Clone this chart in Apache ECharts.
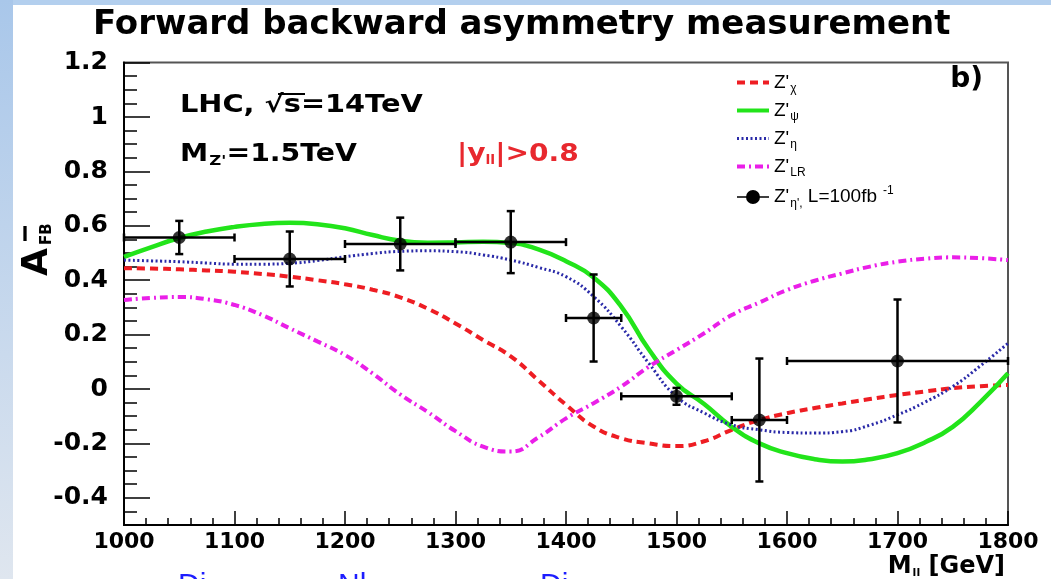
<!DOCTYPE html>
<html><head><meta charset="utf-8">
<script src="https://cdn.jsdelivr.net/npm/echarts@6/dist/echarts.min.js"></script>
<style>html,body{margin:0;padding:0;background:#fff}#c{width:1051px;height:579px}</style>
</head><body><div id="c"></div>
<script>
// ---- data ----
const massGrid = [1000,1025,1050,1075,1100,1125,1150,1175,1200,1225,1250,1275,1300,1325,1350,1375,1400,1425,1450,1475,1500,1525,1550,1575,1600,1625,1650,1675,1700,1725,1750,1775,1800];
const afbChi = [0.444,0.443,0.440,0.436,0.431,0.423,0.413,0.400,0.385,0.365,0.337,0.295,0.241,0.180,0.120,0.032,-0.058,-0.138,-0.181,-0.200,-0.210,-0.192,-0.150,-0.114,-0.089,-0.070,-0.053,-0.037,-0.022,-0.009,0.003,0.010,0.015];
const afbPsi = [0.486,0.522,0.555,0.579,0.596,0.607,0.611,0.606,0.591,0.566,0.545,0.538,0.539,0.541,0.537,0.513,0.470,0.410,0.303,0.145,0.020,-0.055,-0.139,-0.200,-0.236,-0.258,-0.267,-0.258,-0.236,-0.196,-0.139,-0.048,0.058];
const afbEta = [0.474,0.471,0.468,0.463,0.459,0.459,0.462,0.472,0.486,0.498,0.506,0.508,0.505,0.493,0.474,0.447,0.413,0.340,0.229,0.094,-0.028,-0.088,-0.132,-0.150,-0.160,-0.162,-0.157,-0.133,-0.095,-0.048,0.009,0.085,0.168];
const afbLR = [0.327,0.335,0.338,0.330,0.309,0.272,0.223,0.175,0.125,0.057,-0.020,-0.085,-0.155,-0.212,-0.230,-0.178,-0.108,-0.052,0.009,0.082,0.143,0.205,0.272,0.318,0.364,0.398,0.425,0.450,0.468,0.479,0.484,0.481,0.474];
const pointMass = [1050,1150,1250,1350,1425,1500,1575,1700];
const pointAfb = [0.557,0.478,0.533,0.540,0.261,-0.027,-0.114,0.103];
const pointMassErr = [50,50,50,50,25,50,25,100];
const pointAfbErr = [0.061,0.101,0.097,0.114,0.160,0.031,0.226,0.226];
const xTickLabels = [1000,1100,1200,1300,1400,1500,1600,1700,1800];
const yTickLabels = [-0.4,-0.2,0,0.2,0.4,0.6,0.8,1,1.2];

const seriesNames = ["Z'χ", "Z'ψ", "Z'η", "Z'LR", "Z'η', L=100fb-1"];
const legendRich = {
  "Z'χ": "{z|Z'}{s|χ}",
  "Z'ψ": "{z|Z'}{s|ψ}",
  "Z'η": "{z|Z'}{s|η}",
  "Z'LR": "{z|Z'}{s|LR}",
  "Z'η', L=100fb-1": "{z|Z'}{s|η',}{z| L=100fb}{p|-1}"
};
const pair = (ys) => massGrid.map((m, i) => [m, ys[i]]);
const BOLD = 'DejaVu Sans';

const chart = echarts.init(document.getElementById('c'), null, {renderer: 'canvas'});
chart.setOption({
  backgroundColor: '#fff',
  animation: false,
  title: {
    text: 'Forward backward asymmetry measurement',
    left: 88, top: 3,
    textStyle: {fontFamily: BOLD, fontWeight: 'bold', fontSize: 34, color: '#000'}
  },
  grid: {left: 124, top: 62.6, width: 884, height: 462.4, show: true, borderColor: '#555', borderWidth: 2, backgroundColor: 'transparent'},
  legend: {
    orient: 'vertical', left: 735, top: 73, padding: 0, itemWidth: 32, itemHeight: 14, itemGap: 6,
    itemStyle: {opacity: 0},
    data: [
      {name: seriesNames[0], lineStyle: {width: 4}},
      {name: seriesNames[1], lineStyle: {width: 4}},
      {name: seriesNames[2], lineStyle: {width: 3}},
      {name: seriesNames[3], lineStyle: {width: 4}},
      {name: seriesNames[4], icon: 'path://M0,6.2 H32 V7.8 H0 Z M9,7 A7,7 0 1 1 23,7 A7,7 0 1 1 9,7 Z', itemStyle: {color: '#000', opacity: 1}}
    ],
    formatter: (n) => legendRich[n] || n,
    textStyle: {
      fontFamily: 'Liberation Sans', fontSize: 19, color: '#000',
      rich: {
        z: {fontFamily: 'Liberation Sans', fontSize: 19, color: '#000'},
        s: {fontFamily: 'Liberation Sans', fontSize: 12, color: '#000', padding: [13, 0, 0, 1]},
        p: {fontFamily: 'Liberation Sans', fontSize: 12, color: '#000', padding: [0, 0, 12, 6]}
      }
    }
  },
  xAxis: {
    type: 'value', min: 1000, max: 1800, interval: 100,
    axisLine: {onZero: false, lineStyle: {color: '#000', width: 2}},
    axisTick: {inside: true, length: 14, lineStyle: {color: '#000', width: 1.5}},
    minorTick: {show: true, splitNumber: 5, length: 7, lineStyle: {color: '#000', width: 1.5}},
    splitLine: {show: false},
    axisLabel: {customValues: xTickLabels, formatter: (v) => String(v),
      fontFamily: BOLD, fontWeight: 'bold', fontSize: 22, color: '#000', margin: 6},
    name: '{m|M}{s|ll}{g| [GeV]}', nameLocation: 'end', nameGap: -3,
    nameTextStyle: {
      align: 'right', verticalAlign: 'top', padding: [30, 0, 0, 0],
      rich: {
        m: {fontFamily: BOLD, fontWeight: 'bold', fontSize: 24, color: '#000'},
        s: {fontFamily: BOLD, fontWeight: 'bold', fontSize: 11, color: '#000', padding: [12, 0, 0, 1]},
        g: {fontFamily: BOLD, fontWeight: 'bold', fontSize: 24, color: '#000'}
      }
    }
  },
  yAxis: [{
    type: 'value', min: -0.5, max: 1.2, interval: 0.05,
    axisLine: {onZero: false, lineStyle: {color: '#000', width: 2}},
    axisTick: {inside: true, length: 13, lineStyle: {color: '#000', width: 1.5}},
    splitLine: {show: false},
    axisLabel: {customValues: yTickLabels, formatter: (v) => String(Math.round(v * 10) / 10),
      fontFamily: BOLD, fontWeight: 'bold', fontSize: 25, color: '#000', margin: 16}
  }, {
    type: 'value', min: -0.5, max: 1.2, interval: 0.05, position: 'left', offset: 0,
    axisLine: {show: false},
    axisTick: {show: true, inside: true, length: 26, customValues: yTickLabels, lineStyle: {color: '#000', width: 1.5}},
    axisLabel: {show: false},
    splitLine: {show: false}
  }],
  series: [
    {name: seriesNames[0], type: 'line', data: pair(afbChi), smooth: true, symbol: 'none', z: 3,
      itemStyle: {color: '#ee1d23'}, lineStyle: {color: '#ee1d23', width: 4, type: [8, 5]}},
    {name: seriesNames[1], type: 'line', data: pair(afbPsi), smooth: true, symbol: 'none', z: 3,
      itemStyle: {color: '#22e41a'}, lineStyle: {color: '#22e41a', width: 4.5, type: 'solid'}},
    {name: seriesNames[2], type: 'line', data: pair(afbEta), smooth: true, symbol: 'none', z: 3,
      itemStyle: {color: '#2a2aa8'}, lineStyle: {color: '#2a2aa8', width: 3, type: [2, 2.5]}},
    {name: seriesNames[3], type: 'line', data: pair(afbLR), smooth: true, symbol: 'none', z: 3,
      itemStyle: {color: '#ea1fe8'}, lineStyle: {color: '#ea1fe8', width: 4, type: [8, 4, 2, 4]}},
    {name: seriesNames[4], type: 'custom', z: 4,
      data: pointMass.map((m, i) => [m, pointAfb[i], pointMassErr[i], pointAfbErr[i]]),
      encode: {x: 0, y: 1},
      itemStyle: {color: '#000'},
      renderItem: (params, api) => {
        const x = api.value(0), y = api.value(1), dx = api.value(2), dy = api.value(3);
        const l = api.coord([x - dx, y]), r = api.coord([x + dx, y]);
        const t = api.coord([x, y + dy]), b = api.coord([x, y - dy]);
        const st = {stroke: '#000', lineWidth: 2.5};
        const cap = 4;
        return {type: 'group', children: [
          {type: 'line', shape: {x1: l[0], y1: l[1], x2: r[0], y2: r[1]}, style: st},
          {type: 'line', shape: {x1: t[0], y1: t[1], x2: b[0], y2: b[1]}, style: st},
          {type: 'line', shape: {x1: l[0], y1: l[1] - cap, x2: l[0], y2: l[1] + cap}, style: st},
          {type: 'line', shape: {x1: r[0], y1: r[1] - cap, x2: r[0], y2: r[1] + cap}, style: st},
          {type: 'line', shape: {x1: t[0] - cap, y1: t[1], x2: t[0] + cap, y2: t[1]}, style: st},
          {type: 'line', shape: {x1: b[0] - cap, y1: b[1], x2: b[0] + cap, y2: b[1]}, style: st}
        ]};
      }
    },
    {name: seriesNames[4], type: 'scatter', z: 5, symbol: 'circle', symbolSize: 13,
      data: pointMass.map((m, i) => [m, pointAfb[i]]), itemStyle: {color: '#000'}}
  ],
  graphic: [
    {type: 'rect', z: -10, shape: {x: 0, y: 0, width: 1051, height: 5}, style: {fill: '#b3cfee'}},
    {type: 'rect', z: -10, shape: {x: 0, y: 0, width: 13, height: 579},
      style: {fill: new echarts.graphic.LinearGradient(0, 0, 0, 1, [{offset: 0, color: '#a9c7ea'}, {offset: 1, color: '#dfe6ef'}])}},
    {type: 'text', x: 180, y: 106, scaleX: 1.2, style: {text: 'LHC, √s=14TeV', fontFamily: BOLD, fontWeight: 'bold', fontSize: 24, fill: '#000', verticalAlign: 'middle'}},
    {type: 'line', shape: {x1: 278, y1: 94, x2: 305, y2: 94}, style: {stroke: '#000', lineWidth: 2}},
    {type: 'text', x: 180, y: 155, scaleX: 1.18, style: {text: '{m|M}{z|Z\'}{t|=1.5TeV}', verticalAlign: 'middle',
      rich: {
        m: {fontFamily: BOLD, fontWeight: 'bold', fontSize: 24, fill: '#000'},
        z: {fontFamily: BOLD, fontWeight: 'bold', fontSize: 14, fill: '#000', padding: [12, 0, 0, 1]},
        t: {fontFamily: BOLD, fontWeight: 'bold', fontSize: 24, fill: '#000'}
      }}},
    {type: 'text', x: 457, y: 155, scaleX: 1.17, style: {text: '{t||y}{s|ll}{t||>0.8}', verticalAlign: 'middle',
      rich: {
        t: {fontFamily: BOLD, fontWeight: 'bold', fontSize: 24, fill: '#e8282e'},
        s: {fontFamily: BOLD, fontWeight: 'bold', fontSize: 12, fill: '#e8282e', padding: [12, 0, 0, 0]}
      }}},
    {type: 'text', x: 983, y: 80, style: {text: 'b)', fontFamily: BOLD, fontWeight: 'bold', fontSize: 28, fill: '#000', align: 'right', verticalAlign: 'middle'}},
    {type: 'text', x: 38, y: 276, rotation: Math.PI / 2, style: {text: 'A', fontFamily: BOLD, fontWeight: 'bold', fontSize: 36, fill: '#000', align: 'left', verticalAlign: 'middle'}},
    {type: 'text', x: 47, y: 245, rotation: Math.PI / 2, style: {text: 'FB', fontFamily: BOLD, fontWeight: 'bold', fontSize: 15, fill: '#000', align: 'left', verticalAlign: 'middle'}},
    {type: 'text', x: 25, y: 236, style: {text: 'l', fontFamily: BOLD, fontWeight: 'bold', fontSize: 19, fill: '#000', align: 'center', verticalAlign: 'middle'}},
    {type: 'text', x: 178, y: 571, style: {text: 'Di', fontFamily: 'Liberation Sans', fontSize: 30, fill: '#1d1dff', verticalAlign: 'top'}},
    {type: 'text', x: 338, y: 571, style: {text: 'Nl', fontFamily: 'Liberation Sans', fontSize: 30, fill: '#1d1dff', verticalAlign: 'top'}},
    {type: 'text', x: 540, y: 571, style: {text: 'Di', fontFamily: 'Liberation Sans', fontSize: 30, fill: '#1d1dff', verticalAlign: 'top'}}
  ]
});
</script>
</body></html>
